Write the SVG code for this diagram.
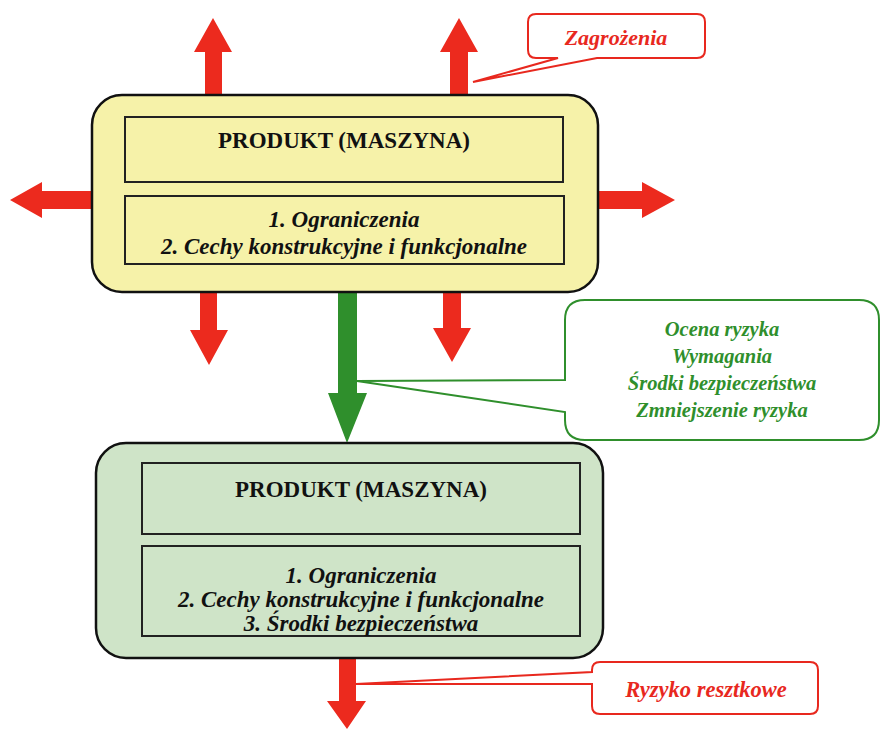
<svg xmlns="http://www.w3.org/2000/svg" width="881" height="729" viewBox="0 0 881 729">
<style>
.outer{stroke:#111;stroke-width:2.5}
.inner{fill:none;stroke:#222;stroke-width:2}
.red{fill:#ec2a1e}
.grn{fill:#2f8f2c}
.t{font-family:"Liberation Serif","Times New Roman",serif;font-weight:bold;text-anchor:middle;fill:#111}
.ti{font-family:"Liberation Serif","Times New Roman",serif;font-weight:bold;font-style:italic;text-anchor:middle}
.rc{fill:#fff;stroke:#e8281e;stroke-width:2}
.gc{fill:#fff;stroke:#2f8f2c;stroke-width:2}
</style>
<rect width="881" height="729" fill="#fff"/>
<g id="connectors">
<path class="red" d="M205 96 V52 H194 L213 18 L232 52 H222 V96 Z"/>
<path class="red" d="M450 96 V52 H440 L459 18 L478 52 H468 V96 Z"/>
<path class="red" d="M92 191 H42 V182 L10 200 L42 218 V209 H92 Z"/>
<path class="red" d="M597 191 H642 V182 L675 200 L642 218 V209 H597 Z"/>
<path class="red" d="M200 291 V330 H190 L209 365 L228 330 H217 V291 Z"/>
<path class="red" d="M443 291 V328 H433 L452 362 L471 328 H461 V291 Z"/>
<path class="grn" d="M338 291 V393 H328 L347 443 L367 393 H357 V291 Z"/>
<path class="red" d="M339 657 V701 H327 L347 729 L366 701 H356 V657 Z"/>
</g>
<g id="node-top">
<rect class="outer" x="92" y="95" width="506" height="197" rx="30" fill="#f6f2a9"/>
<rect class="inner" x="125" y="117" width="438" height="65"/>
<rect class="inner" x="125" y="196" width="439" height="68"/>
<text class="t" x="344" y="148" font-size="23">PRODUKT (MASZYNA)</text>
<text class="ti" x="344" y="227" font-size="23" fill="#111">1. Ograniczenia</text>
<text class="ti" x="344" y="254" font-size="23" fill="#111">2. Cechy konstrukcyjne i funkcjonalne</text>
</g>
<g id="node-bottom">
<rect class="outer" x="96" y="443" width="507" height="215" rx="30" fill="#cfe4c8"/>
<rect class="inner" x="142" y="463" width="438" height="71"/>
<rect class="inner" x="142" y="546" width="438" height="90"/>
<text class="t" x="361" y="497" font-size="23">PRODUKT (MASZYNA)</text>
<text class="ti" x="361" y="583" font-size="23" fill="#111">1. Ograniczenia</text>
<text class="ti" x="361" y="607" font-size="23" fill="#111">2. Cechy konstrukcyjne i funkcjonalne</text>
<text class="ti" x="361" y="631" font-size="23" fill="#111">3. Środki bezpieczeństwa</text>
</g>
<g id="callout-zagrozenia">
<path class="rc" d="M536 14 H697 Q705 14 705 22 V50 Q705 58 697 58 H597 L473 82 L558 58 H536 Q528 58 528 50 V22 Q528 14 536 14 Z"/>
<text class="ti" x="616" y="45" font-size="22" fill="#e8281e">Zagrożenia</text>
</g>
<g id="callout-ocena">
<path class="gc" d="M585 300 H859 Q879 300 879 320 V420 Q879 440 859 440 H585 Q565 440 565 420 V412 L357 381 L565 380 V320 Q565 300 585 300 Z"/>
<text class="ti" x="722" y="336" font-size="20.5" fill="#2f8f2c">Ocena ryzyka</text>
<text class="ti" x="722" y="363" font-size="20.5" fill="#2f8f2c">Wymagania</text>
<text class="ti" x="722" y="390" font-size="20.5" fill="#2f8f2c">Środki bezpieczeństwa</text>
<text class="ti" x="722" y="417" font-size="20.5" fill="#2f8f2c">Zmniejszenie ryzyka</text>
</g>
<g id="callout-ryzyko">
<path class="rc" d="M600 662 H810 Q818 662 818 670 V706 Q818 714 810 714 H600 Q592 714 592 706 V684 L356 684 L592 672 V670 Q592 662 600 662 Z"/>
<text class="ti" x="706" y="697" font-size="22.5" fill="#e8281e">Ryzyko resztkowe</text>
</g>
</svg>
